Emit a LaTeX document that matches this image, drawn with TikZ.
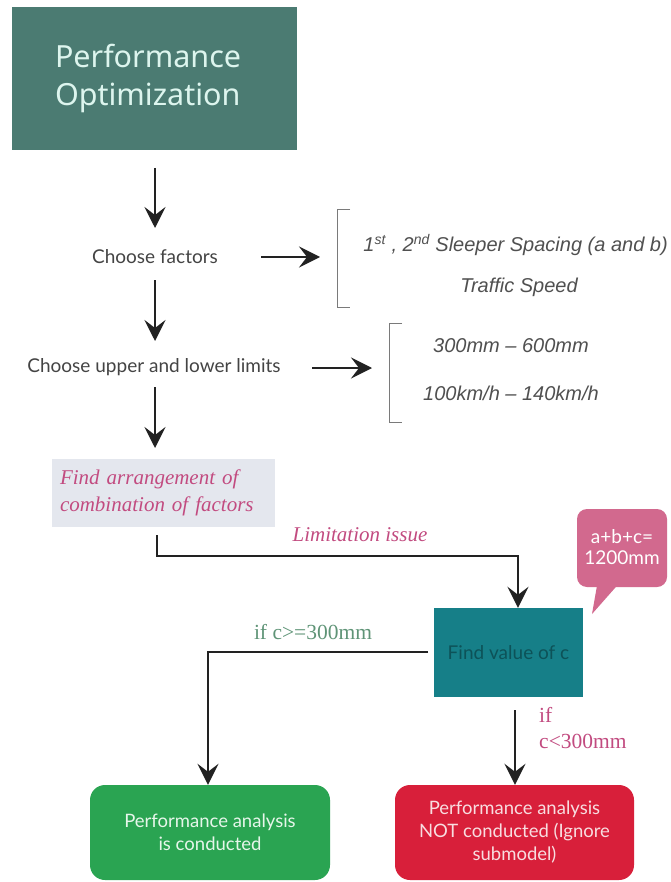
\documentclass[tikz,border=0pt]{standalone}
\usepackage{fontspec}
\setmainfont{Lato}
\newfontfamily\titlefont{Noto Sans}
\newfontfamily\armfont{Liberation Sans}
\newfontfamily\serffont{Liberation Serif}
\usetikzlibrary{arrows.meta}

\definecolor{titlefill}{HTML}{4B7B72}
\definecolor{titletext}{HTML}{DDF5EE}
\definecolor{arrfill}{HTML}{E4E7EE}
\definecolor{pinktext}{HTML}{C24B80}
\definecolor{calloutfill}{HTML}{D2698E}
\definecolor{tealfill}{HTML}{167F88}
\definecolor{tealtext}{HTML}{0D5258}
\definecolor{greentext}{HTML}{5F9477}
\definecolor{okfill}{HTML}{2AA452}
\definecolor{okfilltext}{HTML}{E6F6EA}
\definecolor{nofill}{HTML}{D81F3A}
\definecolor{nofilltext}{HTML}{F8DDE0}
\definecolor{linecol}{HTML}{222222}
\definecolor{brackcol}{HTML}{7A7A7A}
\definecolor{itgray}{HTML}{505050}
\definecolor{steptext}{HTML}{444444}

\tikzset{
  flow/.style={draw=linecol, line width=2.2pt, -{Stealth[length=21pt, width=21pt, inset=8pt]}},
  steptxt/.style={inner sep=0pt, text=steptext, font=\fontsize{19}{22}\selectfont},
  rangetxt/.style={inner sep=0pt, text=itgray, font=\armfont\itshape\fontsize{20}{24}\selectfont},
  brack/.style={draw=brackcol, line width=0.9pt},
  pinklabel/.style={inner sep=0pt, text=pinktext, font=\serffont\itshape\fontsize{21}{25}\selectfont},
  resultbox/.style={rounded corners=15pt, minimum width=240pt, minimum height=95pt, align=center, inner sep=0pt, font=\fontsize{18.5}{23}\selectfont},
}

\begin{document}
\begin{tikzpicture}[x=1pt, y=-1pt]
\path[use as bounding box, fill=white] (0,0) rectangle (670,882);

% title block
\node[fill=titlefill, text=titletext, minimum width=285pt, minimum height=143pt,
      text width=199pt, align=left, inner sep=0pt,
      font=\titlefont\fontsize{30.5}{38}\selectfont] (title) at (154.5,78.5)
  {Performance\\Optimization};

% process steps
\node[steptxt] (factors) at (155,257) {Choose factors};
\node[steptxt] (limits) at (154,367) {Choose upper and lower limits};

% factor list with bracket
\node[rangetxt, anchor=east] (spacing) at (668,245)
  {1\textsuperscript{st} , 2\textsuperscript{nd} Sleeper Spacing (a and b)};
\node[rangetxt] (speed) at (519,287) {Traffic Speed};
\draw[brack] (350,209) -- (337,209) -- (337,307) -- (350,307);
\coordinate (brackA) at (320,257);

% limit list with bracket
\node[rangetxt] (mmrange) at (511,346) {300mm – 600mm};
\node[rangetxt] (kmrange) at (511,393) {100km/h – 140km/h};
\draw[brack] (402,323) -- (389,323) -- (389,422) -- (402,422);
\coordinate (brackB) at (372,368);

% arrangement block
\node[fill=arrfill, minimum width=223pt, minimum height=68pt, text width=207pt,
      align=left, inner sep=0pt, text=pinktext,
      font=\serffont\itshape\fontsize{21}{27}\selectfont] (arrange) at (163.5,493)
  {Find arrangement of\\combination of factors};

% find value block and callout
\node[fill=tealfill, minimum width=149pt, minimum height=89pt, inner sep=0pt,
      text=tealtext, font=\fontsize{19}{22}\selectfont] (findc) at (508.5,652.5)
  {Find value of c};
\fill[calloutfill, rounded corners=10pt] (577,509) rectangle (667,587);
\fill[calloutfill] (598,580) -- (622,580) -- (592,614) -- cycle;
\node[text=white, align=center, inner sep=0pt, font=\fontsize{19}{21}\selectfont] (sumnote) at (622,547)
  {a+b+c=\\1200mm};

% results
\node[resultbox, fill=okfill, text=okfilltext] (done) at (210,832.5)
  {Performance analysis\\is conducted};
\node[resultbox, fill=nofill, text=nofilltext, minimum width=239pt] (skip) at (514.5,832.5)
  {Performance analysis\\NOT conducted (Ignore\\submodel)};

% connectors
\coordinate (t1) at (155,168);
\draw[flow] (t1) -- (155,228);
\draw[flow] (155,280) -- (155,341);
\draw[flow] (155,387) -- (155,448);
\draw[flow] (261,257) -- (brackA);
\draw[flow] (312,368) -- (brackB);

\coordinate (lim0) at (157,535);
\coordinate (limturn) at (518,556);
\draw[flow] (lim0) |- (limturn) -- (limturn |- findc.north);
\node[pinklabel] (limlabel) at (360,535) {Limitation issue};

\coordinate (geq0) at (428,652);
\coordinate (geqturn) at (208,652);
\draw[flow] (geq0) -- (geqturn) -- (geqturn |- done.north);
\node[inner sep=0pt, text=greentext, font=\serffont\fontsize{21.5}{25}\selectfont] (geq) at (313,632) {if c>=300mm};

\coordinate (lt0) at (515,710);
\draw[flow] (lt0) -- (lt0 |- skip.north);
\node[inner sep=0pt, anchor=north west, align=left, text=pinktext,
      font=\serffont\fontsize{21.5}{26}\selectfont] (lt) at (539,707) {if\\c<300mm};
\end{tikzpicture}
\end{document}
